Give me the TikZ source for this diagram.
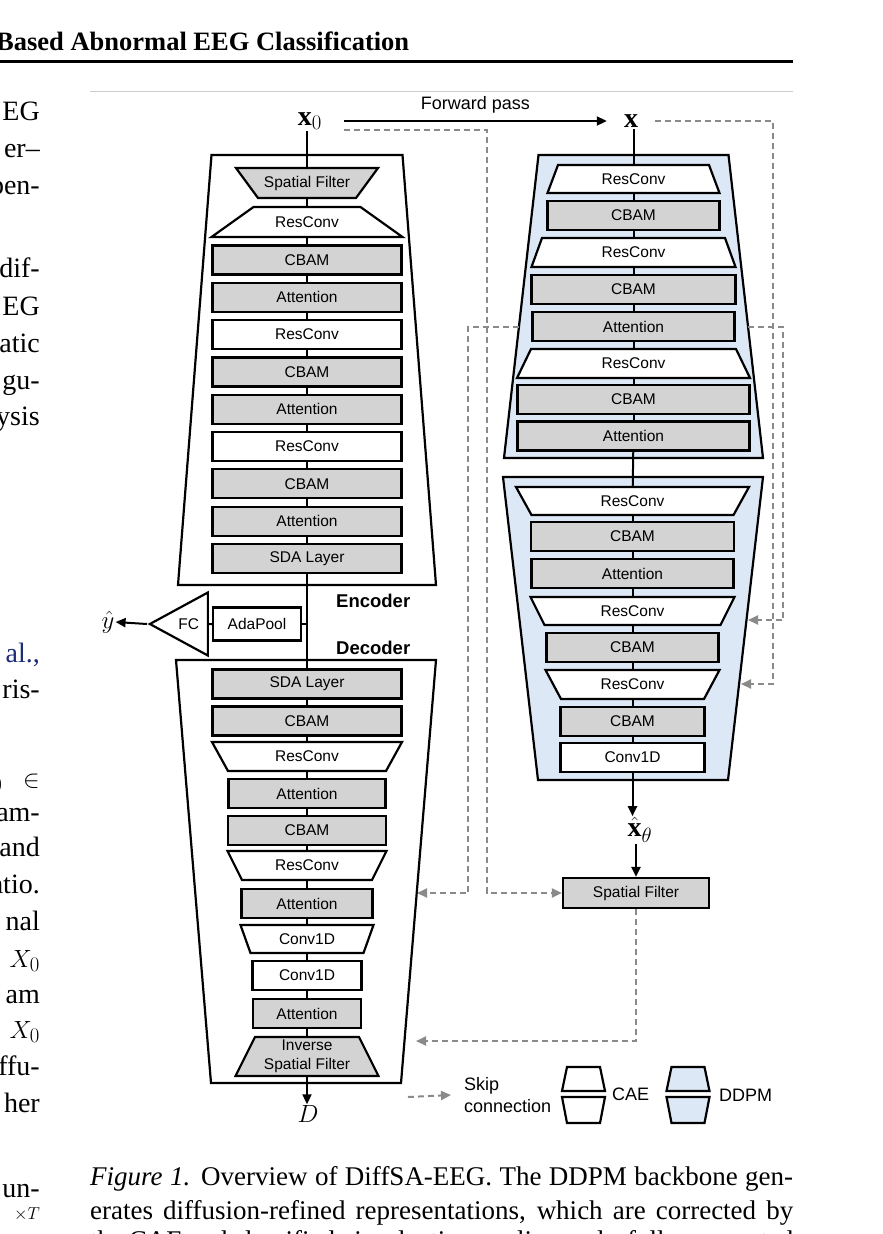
\documentclass[tikz,border=0pt]{standalone}
\usepackage{fontspec}
\setmainfont{Liberation Serif}
\setsansfont{Liberation Sans}
\usetikzlibrary{shapes.geometric,arrows.meta,calc}

\definecolor{BoxGrey}{RGB}{211,211,211}
\definecolor{DdpmBlue}{RGB}{220,232,246}
\definecolor{SkipGrey}{RGB}{138,138,138}
\definecolor{RuleGrey}{RGB}{205,205,205}
\definecolor{CiteBlue}{RGB}{28,45,120}

% trapezoid block: name, centre, top width, bottom width, height, fill, label
\newcommand{\trapblock}[7]{%
  \filldraw[blkline, fill=#6] ($(#2)+({-(#3)/2},{-(#5)/2})$) -- ($(#2)+({(#3)/2},{-(#5)/2})$)
    -- ($(#2)+({(#4)/2},{(#5)/2})$) -- ($(#2)+({-(#4)/2},{(#5)/2})$) -- cycle;
  \node[lbl, minimum width={max(#3,#4)*1pt}, minimum height={(#5)*1pt}] (#1) at (#2) {#7};
}

\begin{document}
\begin{tikzpicture}[x=1pt,y=-1pt, >={Triangle[length=10pt,width=9pt]},
    blkline/.style={draw, line width=2.2pt},
    lbl/.style={inner sep=0pt, align=center, font=\sffamily\fontsize{15.5}{19}\selectfont},
    blk/.style={blkline, lbl, minimum height=29pt},
    gbox/.style={blk, rectangle, fill=BoxGrey},
    wbox/.style={blk, rectangle, fill=white},
    link/.style={line width=2pt},
    skip/.style={draw=SkipGrey, line width=2pt, dash pattern=on 6pt off 4pt, ->},
    mathlbl/.style={font=\fontsize{28}{32}\selectfont, inner sep=1pt},
    tag/.style={font=\sffamily\bfseries\fontsize{18.5}{22}\selectfont, inner sep=0pt},
    legtxt/.style={font=\sffamily\fontsize{18}{22}\selectfont, align=left, inner sep=0pt},
    page/.style={font=\fontsize{28}{34}\selectfont, inner sep=0pt, anchor=base east}]

    \useasboundingbox (0,0) rectangle (883,1234);

    % Page around the figure
    \node[inner sep=0pt, anchor=base west, font=\bfseries\fontsize{26.5}{30}\selectfont] (hdr) at (-4,50) {Based Abnormal EEG Classification};
    \draw[line width=3pt] (0,61) -- (793,61);
    \draw[RuleGrey, line width=1pt] (90,91) -- (793,91);
    \node[page] (lc1) at (40,120) {EG};
    \node[page] (lc2) at (40,157) {er--};
    \node[page] (lc3) at (40,194) {pen-};
    \node[page] (lc4) at (40,277) {dif-};
    \node[page] (lc5) at (40,315) {EG};
    \node[page] (lc6) at (40,352) {atic};
    \node[page] (lc7) at (40,389) {gu-};
    \node[page] (lc8) at (40,425) {ysis};
    \node[page, text=CiteBlue] (lc9) at (40,662) {al.,};
    \node[page] (lc10) at (40,698) {ris-};
    \node[page] (lc11) at (40,787) {${}_0\ \ \in$};
    \node[page] (lc12) at (40,821) {am-};
    \node[page] (lc13) at (40,856) {and};
    \node[page] (lc14) at (40,893) {atio.};
    \node[page] (lc15) at (40,930) {nal};
    \node[page] (lc16) at (40,967) {$X_0$};
    \node[page] (lc17) at (40,1003) {am};
    \node[page] (lc18) at (40,1038) {$X_0$};
    \node[page] (lc19) at (40,1075) {ffu-};
    \node[page] (lc20) at (40,1112) {her};
    \node[page] (lc21) at (40,1197) {un-};
    \node[page, font=\fontsize{18}{20}\selectfont] (lc22) at (40,1219) {$\times T$};
    \node[inner sep=0pt, anchor=base west, font=\fontsize{27}{32}\selectfont] (cap1) at (90,1185) {\makebox[703pt][s]{\textit{Figure 1.} Overview of DiffSA-EEG. The DDPM backbone gen-}};
    \node[inner sep=0pt, anchor=base west, font=\fontsize{27}{32}\selectfont] (cap2) at (90,1219) {\makebox[703pt][s]{erates diffusion-refined representations, which are corrected by}};
    \node[inner sep=0pt, anchor=base west, font=\fontsize{27}{32}\selectfont] (cap3) at (90,1249) {\makebox[703pt][s]{the CAE and classified via adaptive pooling and a fully connected}};

    % Encoder
    \trapblock{enc}{307,370}{191}{258}{430}{white}{}
    \trapblock{e1}{307,183}{142}{98}{30}{BoxGrey}{Spatial Filter}
    \trapblock{e2}{307,222}{107}{191}{30}{white}{ResConv}
    \node[gbox, minimum width=189pt] (e3) at (307,260) {CBAM};
    \node[gbox, minimum width=189pt] (e4) at (307,297.3) {Attention};
    \node[wbox, minimum width=189pt] (e5) at (307,334.6) {ResConv};
    \node[gbox, minimum width=189pt] (e6) at (307,371.9) {CBAM};
    \node[gbox, minimum width=189pt] (e7) at (307,409.2) {Attention};
    \node[wbox, minimum width=189pt] (e8) at (307,446.5) {ResConv};
    \node[gbox, minimum width=189pt] (e9) at (307,483.8) {CBAM};
    \node[gbox, minimum width=189pt] (e10) at (307,521.1) {Attention};
    \node[gbox, minimum width=189pt] (e11) at (307,558.4) {SDA Layer};
    \node[tag, anchor=west] (enclbl) at (336,601) {Encoder};

    % Decoder
    \trapblock{dec}{306,871.5}{260}{190}{423}{white}{}
    \node[tag, anchor=west] (declbl) at (336,648) {Decoder};
    \node[gbox, minimum width=189pt] (d1) at (307,684) {SDA Layer};
    \node[gbox, minimum width=189pt] (d2) at (307,721) {CBAM};
    \trapblock{d3}{307,756.5}{190}{158}{29}{white}{ResConv}
    \node[gbox, minimum width=157pt] (d4) at (307,793.5) {Attention};
    \node[gbox, minimum width=158pt] (d5) at (307,830.5) {CBAM};
    \trapblock{d6}{307,865.5}{159}{130}{29}{white}{ResConv}
    \node[gbox, minimum width=131pt] (d7) at (307,903.5) {Attention};
    \trapblock{d8}{307,939}{133}{113}{28}{white}{Conv1D}
    \node[wbox, minimum width=109pt] (d9) at (307,975.5) {Conv1D};
    \node[gbox, minimum width=108pt] (d10) at (307,1013.5) {Attention};
    \trapblock{d11}{307,1056.5}{104}{143}{39}{BoxGrey}{Inverse\\Spatial Filter}
    \node[mathlbl] (D) at (308,1114) {$D$};

    % Classification head
    \node[wbox, minimum width=88pt, minimum height=33pt] (ada) at (257,624) {AdaPool};
    \node[blk, isosceles triangle, shape border rotate=180, isosceles triangle stretches, minimum height=58pt, minimum width=63pt, fill=white, anchor=apex] (fc) at (147,624) {FC};
    \node[mathlbl] (yhat) at (108,622) {$\hat{y}$};

    % DDPM, down path
    \trapblock{dA}{633.5,306.5}{190}{259}{303}{DdpmBlue}{}
    \trapblock{a1}{633.5,179}{151}{172}{28}{white}{ResConv}
    \node[gbox, minimum width=172pt] (a2) at (633.5,215.5) {CBAM};
    \trapblock{a3}{633.5,252.5}{183}{204}{29}{white}{ResConv}
    \node[gbox, minimum width=204pt] (a4) at (633.5,289.5) {CBAM};
    \node[gbox, minimum width=202pt] (a5) at (633.5,326.5) {Attention};
    \trapblock{a6}{633.5,363.5}{205}{233}{29}{white}{ResConv}
    \node[gbox, minimum width=232pt] (a7) at (633.5,399.5) {CBAM};
    \node[gbox, minimum width=232pt] (a8) at (633.5,436) {Attention};

    % DDPM, up path
    \trapblock{dB}{633,628.5}{260}{190}{303}{DdpmBlue}{}
    \trapblock{b1}{632.5,501}{233}{202}{28}{white}{ResConv}
    \node[gbox, minimum width=203pt] (b2) at (632.5,536.5) {CBAM};
    \node[gbox, minimum width=202pt] (b3) at (632.5,573.5) {Attention};
    \trapblock{b4}{632.5,611}{204}{176}{28}{white}{ResConv}
    \node[gbox, minimum width=172pt] (b5) at (632.5,647.5) {CBAM};
    \trapblock{b6}{632.5,684.5}{174}{143}{29}{white}{ResConv}
    \node[gbox, minimum width=144pt] (b7) at (632.5,721.5) {CBAM};
    \node[wbox, minimum width=144pt] (b8) at (632.5,757.5) {Conv1D};

    % Inputs and outputs
    \node[mathlbl, inner xsep=22pt] (x0) at (310,121) {$\mathbf{x}_0$};
    \node[mathlbl, inner xsep=17pt] (x) at (631,121) {$\mathbf{x}$};
    \node[mathlbl] (xhat) at (640,830) {$\hat{\mathbf{x}}_\theta$};
    \node[gbox, minimum width=146pt, minimum height=30pt] (sf) at (636,893) {Spatial Filter};

    % Main path
    \draw[link, ->] (x0) -- node[above=3pt, font=\sffamily\fontsize{18}{20}\selectfont] (fwd) {Forward pass} (x);
    \draw[link] (e1) -- (e1 |- x0.south);
    \foreach \u/\v in {e1/e2, e2/e3, e3/e4, e4/e5, e5/e6, e6/e7, e7/e8, e8/e9, e9/e10, e10/e11, e11/d1,
                       d1/d2, d2/d3, d3/d4, d4/d5, d5/d6, d6/d7, d7/d8, d8/d9, d9/d10, d10/d11,
                       a1/a2, a2/a3, a3/a4, a4/a5, a5/a6, a6/a7, a7/a8, a8/b1,
                       b1/b2, b2/b3, b3/b4, b4/b5, b5/b6, b6/b7, b7/b8}
        \draw[link] (\u) -- (\v);
    \draw[link] (a1) -- (a1 |- x.south);
    \draw[link, ->] (d11) -- (d11 |- D.north);
    \draw[link] (ada.east) -- (ada.east -| e11);
    \draw[link] (fc) -- (ada);
    \draw[link, ->] (fc.apex) -- (yhat.east);
    \draw[link, ->] (b8) -- (b8 |- xhat.north);
    \draw[link, ->] (xhat.south -| sf) -- (sf);

    % Skip connections
    \coordinate (outA1) at (519,326.5);
    \coordinate (outA2) at (748,326.5);
    \coordinate (sk1) at (487,893);
    \coordinate (sk2) at (468,893);
    \coordinate (sk3) at (783,620);
    \coordinate (sk4) at (773,684);
    \coordinate (inD1) at (417,893);
    \coordinate (inD2) at (416,1041);
    \coordinate (inB1) at (748,620);
    \coordinate (inB2) at (741,684);
    \draw[skip] ([yshift=-9pt]x0.east) -| (sk1) -- (sf.west);
    \draw[skip] (outA1) -| (sk2) -- (inD1);
    \draw[skip] (outA2) -| (sk3) -- (inB1);
    \draw[skip] (x.east) -| (sk4) -- (inB2);
    \draw[skip] (sf.south) |- (inD2);

    % Legend
    \coordinate (lg0) at (408,1097);
    \node[legtxt, anchor=west] (lgtxt) at (464,1095) {Skip\\connection};
    \draw[skip] (lg0) -- ([xshift=-13pt]lgtxt.west);
    \trapblock{cae1}{583.5,1079}{33}{43}{24}{white}{}
    \trapblock{cae2}{583.5,1110}{43}{33}{26}{white}{}
    \node[legtxt, anchor=west] (caelbl) at (612,1094) {CAE};
    \trapblock{ddpm1}{688,1079}{33}{43}{24}{DdpmBlue}{}
    \trapblock{ddpm2}{688,1110}{43}{33}{26}{DdpmBlue}{}
    \node[legtxt, anchor=west] (ddpmlbl) at (719,1095) {DDPM};
\end{tikzpicture}
\end{document}
